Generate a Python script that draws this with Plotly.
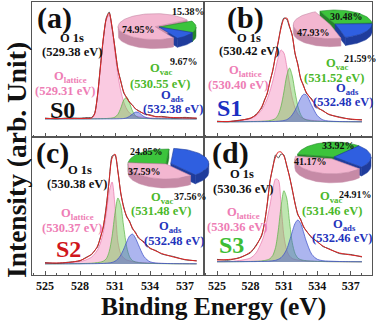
import numpy as np
import plotly.graph_objects as go

# ---------------- data ----------------
energy = [525, 526, 527, 528, 528.5, 529, 529.25, 529.5, 529.75, 530, 530.25, 530.5,
          530.75, 531, 531.25, 531.5, 531.75, 532, 532.25, 532.5, 532.75, 533, 533.5,
          534, 534.5, 535, 536, 537, 538]

# S0 (a)
s0_raw = [0.9, 0.2, 1.1, 0.8, 1.3, 1.6, 5.5, 23, 53, 80, 101, 107, 91, 71, 49, 38, 26, 21.5, 16.5, 14, 10, 8.6, 5, 4.2, 2.2, 2.6, 1.0, 1.6, 0.6]
s0_fit = [0.5, 0.5, 0.5, 0.5, 0.6, 1.0, 5, 24, 52, 81, 100, 106, 92, 70, 50, 37, 27, 21, 17, 13.5, 10.5, 8, 5.5, 3.5, 2.5, 2, 1.5, 1, 1]
s0_lattice = [0.3, 0.4, 0.4, 0.5, 0.6, 1, 5, 23, 51, 80, 99, 104, 90, 66, 44, 28, 17, 10, 6, 4, 3, 2.3, 1.6, 1.2, 0.9, 0.7, 0.5, 0.3, 0.2]
s0_vac = [0.1, 0.1, 0.1, 0.12, 0.15, 0.2, 0.25, 0.3, 0.35, 0.4, 0.5, 0.7, 1.0, 1.9, 4.7, 11, 19, 21.8, 15.8, 8.1, 3.3, 1.4, 0.5, 0.35, 0.25, 0.2, 0.15, 0.1, 0.1]
s0_ads = [0.05, 0.05, 0.05, 0.05, 0.05, 0.1, 0.1, 0.1, 0.1, 0.1, 0.1, 0.1, 0.1, 0.15, 0.2, 0.3, 0.5, 1.2, 2.7, 4.9, 6.8, 6.6, 2.3, 0.5, 0.25, 0.15, 0.1, 0.08, 0.05]

# S1 (b)
s1_raw = [0.8, 0.3, 1.8, 3.6, 7.5, 14, 22, 28, 41, 51, 67, 80, 96, 104, 103, 95, 87, 68, 58, 43, 37, 29, 23, 14, 11.5, 7.5, 5, 2.6, 2.3]
s1_fit = [0.5, 0.5, 1.5, 4, 7, 15, 21, 29, 40, 52, 66, 81, 94, 103, 104, 96, 86, 69, 57, 44, 36, 30, 22, 15, 11, 8, 4.5, 3, 2]
s1_lattice = [0.5, 0.5, 1.3, 3.5, 6, 12, 17, 23, 31, 41, 53, 65, 72, 69, 56, 39, 24, 14, 8, 5, 3.5, 2.5, 1.6, 1.1, 0.8, 0.6, 0.4, 0.3, 0.2]
s1_vac = [0.15, 0.2, 0.25, 0.4, 0.55, 0.75, 0.9, 1.1, 1.5, 2.2, 3.6, 7.6, 16, 30, 46, 54, 46, 30, 16, 7.6, 3.6, 2.2, 1.1, 0.75, 0.5, 0.4, 0.25, 0.2, 0.15]
s1_ads = [0.15, 0.2, 0.2, 0.3, 0.3, 0.35, 0.4, 0.4, 0.45, 0.5, 0.6, 0.8, 1.1, 1.5, 2.3, 4.1, 7.2, 11.7, 17.7, 23.7, 27.6, 27.2, 16.4, 6.4, 2.1, 1.0, 0.45, 0.3, 0.2]

# S2 (c)
s2_raw = [1.4, 0.6, 1.8, 3.2, 6.5, 9.5, 13.5, 17, 27, 37, 58, 83, 108, 109, 93, 70, 57, 47, 43, 35, 32, 26, 22, 15.5, 13.5, 10, 7.5, 4.2, 3.3]
s2_fit = [1, 1, 1.5, 3.5, 6, 10, 13, 18, 26, 38, 56, 84, 106, 110, 92, 71, 56, 48, 42, 36, 31, 27, 21, 16, 13, 10.5, 7, 4.5, 3]
s2_lattice = [0.6, 0.8, 1.2, 2.5, 4, 7, 10, 14, 21, 32, 50, 72, 82, 58, 22, 10, 6, 4, 3.2, 2.5, 2, 1.6, 1.2, 0.9, 0.7, 0.6, 0.4, 0.3, 0.25]
s2_vac = [0.1, 0.15, 0.25, 0.4, 0.6, 0.8, 1.1, 1.4, 1.9, 2.8, 5.2, 12.3, 27.8, 51, 66, 58, 36.6, 17.3, 7.2, 3.4, 2.1, 1.5, 0.9, 0.6, 0.45, 0.35, 0.2, 0.15, 0.1]
s2_ads = [0.2, 0.2, 0.2, 0.2, 0.25, 0.3, 0.35, 0.4, 0.5, 0.6, 0.8, 1.1, 1.6, 2.8, 5, 9, 15, 22, 28, 29.9, 26, 19.4, 7.2, 2.2, 1.0, 0.63, 0.35, 0.25, 0.18]

# S3 (d)
s3_raw = [2.6, 1.8, 4.4, 9.2, 16.8, 26, 39, 57, 81, 94, 107, 104, 108, 107, 96, 86, 72, 59, 47, 43, 35, 31.5, 24, 20.5, 15.5, 13.5, 8.4, 7.5, 5]
s3_fit = [2, 2.5, 4, 10, 16, 27, 38, 58, 80, 95, 105, 110, 110, 106, 97, 85, 73, 58, 48, 42, 36, 31, 25, 20, 16, 13, 9, 7, 5.5]
s3_lattice = [0.3, 0.5, 1.5, 4, 9, 20, 28, 43, 57, 72, 83, 82, 56, 26, 12, 6, 3.5, 2.5, 2, 1.6, 1.3, 1.1, 0.8, 0.6, 0.5, 0.4, 0.3, 0.2, 0.2]
s3_vac = [0.2, 0.25, 0.35, 0.55, 0.75, 1.1, 1.5, 2.1, 3.3, 6.5, 14.4, 32, 56, 71.3, 64, 40.7, 19.4, 8.5, 4, 2.4, 1.7, 1.3, 0.9, 0.6, 0.45, 0.35, 0.25, 0.2, 0.15]
s3_ads = [0.3, 0.3, 0.35, 0.4, 0.45, 0.55, 0.65, 0.8, 1.0, 1.3, 1.7, 2.7, 4.4, 7.7, 12.6, 21, 30.3, 38.6, 42, 38.6, 30.3, 21, 7.7, 2.7, 1.3, 0.9, 0.5, 0.33, 0.22]

samples = ["S0", "S1", "S2", "S3"]
panel_letters = ["(a)", "(b)", "(c)", "(d)"]
lattice_pct = [74.95, 47.93, 37.59, 41.17]
vac_pct = [15.38, 30.48, 24.85, 33.92]
ads_pct = [9.67, 21.59, 37.56, 24.91]
o1s_ev = [529.38, 530.42, 530.38, 530.36]
lattice_ev = [529.31, 530.40, 530.37, 530.36]
vac_ev = [530.55, 531.52, 531.48, 531.46]
ads_ev = [532.38, 532.48, 532.48, 532.46]
xtick_step = 3

# ---------------- layout helpers ----------------
W, H = 376, 321
SERIF = "Liberation Serif, Times New Roman, serif"

spectra = [
    (s0_raw, s0_fit, s0_lattice, s0_vac, s0_ads),
    (s1_raw, s1_fit, s1_lattice, s1_vac, s1_ads),
    (s2_raw, s2_fit, s2_lattice, s2_vac, s2_ads),
    (s3_raw, s3_fit, s3_lattice, s3_vac, s3_ads),
]

# panel boxes in pixels: x0, x1, y0, y1, baseline pixel, pixel of 525 eV, pixels per eV
panels = [
    (32, 204, 2, 137, 119, 45, 11.667),
    (204, 372, 2, 137, 122, 217, 11.15),
    (32, 204, 137, 275, 264, 45, 11.667),
    (204, 372, 137, 275, 262, 217, 11.15),
]

C_PINK_T, C_GREEN_T, C_BLUE_T = "#ee7db5", "#4bb82a", "#2333bb"
sample_colors = ["#111111", "#1b2fc2", "#d0161b", "#3dbd35"]

fig = go.Figure()

comp_style = [
    ("rgba(232,120,172,0.9)", "rgba(246,150,196,0.50)"),
    ("rgba(90,180,70,0.9)", "rgba(110,200,80,0.45)"),
    ("rgba(60,80,200,0.9)", "rgba(70,90,220,0.45)"),
]

for k in range(4):
    key = "" if k == 0 else str(k + 1)
    raw, fit, lat, vac, ads = spectra[k]
    for comp, (lc, fc) in zip((lat, vac, ads), comp_style):
        fig.add_trace(go.Scatter(
            x=energy, y=comp, xaxis="x" + key, yaxis="y" + key, mode="lines",
            line=dict(color=lc, width=0.8, shape="spline", smoothing=0.8),
            fill="tozeroy", fillcolor=fc, hoverinfo="skip", showlegend=False))
    fig.add_trace(go.Scatter(
        x=energy, y=raw, xaxis="x" + key, yaxis="y" + key, mode="lines",
        line=dict(color="#383838", width=0.9, shape="spline", smoothing=0.6),
        hoverinfo="skip", showlegend=False))
    fig.add_trace(go.Scatter(
        x=energy, y=fit, xaxis="x" + key, yaxis="y" + key, mode="lines",
        line=dict(color="#e02424", width=1.0, shape="spline", smoothing=0.8),
        hoverinfo="skip", showlegend=False))

# ---------------- 3D-look pies (overlay axis in pixel units) ----------------
pie_geo = [  # cx, cy, a, b, depth, start angle, exploded slice index, explode px
    (159, 27, 37, 13, 9, 30, 2, 4),
    (335, 24, 37, 14, 8, 114, 2, 5),
    (166, 164, 38, 15, 9, 175, 1, 5),
    (334, 157, 37, 15, 9, 170, 2, 5),
]
top_cols = ["#3cc43c", "#2f5fe0", "#f3b6d0"]
side_cols = ["#24862a", "#1f3c9c", "#c68aa6"]


def arc(cx, cy, a, b, t0, t1):
    n = max(2, int(abs(t1 - t0) / 3) + 2)
    t = np.radians(np.linspace(t0, t1, n))
    return cx + a * np.cos(t), cy - b * np.sin(t)


def poly(xs, ys, fc, lc, lw=0.5):
    return go.Scatter(x=list(xs), y=list(ys), xaxis="x5", yaxis="y5", mode="lines",
                      fill="toself", fillcolor=fc, line=dict(color=lc, width=lw),
                      hoverinfo="skip", showlegend=False)


walls, sides, tops = [], [], []
for k in range(4):
    cx, cy, a, b, dep, start, ex_i, ex_r = pie_geo[k]
    pcts = [vac_pct[k], ads_pct[k], lattice_pct[k]]
    s = start
    for i, v in enumerate(pcts):
        e = s - 360.0 * v / 100.0
        m = np.radians((s + e) / 2)
        r = ex_r if i == ex_i else 0
        ox, oy = cx + r * np.cos(m), cy - r * (b / a) * np.sin(m)
        for ang, vis in ((s, np.cos(np.radians(s)) < 0), (e, np.cos(np.radians(e)) > 0)):
            if vis:
                rx = ox + a * np.cos(np.radians(ang))
                ry = oy - b * np.sin(np.radians(ang))
                walls.append(poly([ox, rx, rx, ox, ox], [oy, ry, ry + dep, oy + dep, oy],
                                  side_cols[i], side_cols[i]))
        for kk in (-1, 0, 1):
            lo = max(e, -180 + 360 * kk)
            hi = min(s, 360 * kk)
            if hi > lo:
                xt, yt = arc(ox, oy, a, b, hi, lo)
                xs = np.concatenate([xt, xt[::-1], xt[:1]])
                ys = np.concatenate([yt, yt[::-1] + dep, yt[:1]])
                sides.append(poly(xs, ys, side_cols[i], side_cols[i]))
        xt, yt = arc(ox, oy, a, b, s, e)
        tops.append(poly([ox, *xt, ox], [oy, *yt, oy], top_cols[i], side_cols[i], 0.6))
        s = e

for tr in walls + sides + tops:
    fig.add_trace(tr)

# ---------------- text ----------------
ann = []


def txt(x, y, t, size, color="#111111", angle=0):
    ann.append(dict(x=x, y=y, xref="x5", yref="y5", text=t, showarrow=False,
                    xanchor="center", yanchor="middle", textangle=angle,
                    font=dict(family=SERIF, size=size, color=color)))


pos = {
    "letter": [(54, 18), (245, 18), (52, 153), (230, 153)],
    "o1s": [(72, 38), (249, 38), (80, 170), (242, 174)],
    "o1s_ev": [(72, 52), (249, 51), (77, 184), (243, 189)],
    "lat": [(70, 77), (245, 71), (77, 214), (243, 213)],
    "lat_ev": [(65, 91), (238, 85), (72, 228), (237, 227)],
    "sample": [(62, 110), (229, 108), (68, 249), (231, 245)],
    "vac": [(161, 69), (337, 64), (162, 198), (331, 197)],
    "vac_ev": [(160, 84), (334, 78), (161, 211), (332, 211)],
    "ads": [(172, 96), (347, 89), (170, 227), (344, 225)],
    "ads_ev": [(173, 109), (343, 102), (174, 241), (342, 238)],
}
pct_pos = [
    [(188, 11), (184, 61), (138, 29)],
    [(346, 16), (360, 58), (313, 32)],
    [(146, 151), (190, 196), (144, 171)],
    [(338, 145), (355, 194), (310, 161)],
]

for k in range(4):
    txt(*pos["letter"][k], "<b>%s</b>" % panel_letters[k], 30)
    txt(*pos["o1s"][k], "<b>O 1s</b>", 12.5)
    txt(*pos["o1s_ev"][k], "<b>(%.2f eV)</b>" % o1s_ev[k], 12.5)
    txt(*pos["lat"][k], "<b>O<sub>lattice</sub></b>", 12.5, C_PINK_T)
    txt(*pos["lat_ev"][k], "<b>(%.2f eV)</b>" % lattice_ev[k], 12.5, C_PINK_T)
    txt(*pos["sample"][k], "<b>%s</b>" % samples[k], 24, sample_colors[k])
    txt(*pos["vac"][k], "<b>O<sub>vac</sub></b>", 12.5, C_GREEN_T)
    txt(*pos["vac_ev"][k], "<b>(%.2f eV)</b>" % vac_ev[k], 12.5, C_GREEN_T)
    txt(*pos["ads"][k], "<b>O<sub>ads</sub></b>", 12.5, C_BLUE_T)
    txt(*pos["ads_ev"][k], "<b>(%.2f eV)</b>" % ads_ev[k], 12.5, C_BLUE_T)
    for (px, py), v in zip(pct_pos[k], (vac_pct[k], ads_pct[k], lattice_pct[k])):
        txt(px, py, "<b>%.2f%%</b>" % v, 10)

txt(16, 160, "<b>Intensity (arb. Unit)</b>", 27.5, angle=-90)
txt(213, 306, "<b>Binding Energy (eV)</b>", 25.5)

# ---------------- axes ----------------
layout = dict(width=W, height=H, margin=dict(l=0, r=0, t=0, b=0),
              paper_bgcolor="white", plot_bgcolor="rgba(0,0,0,0)",
              showlegend=False, annotations=ann)
for k, (x0, x1, y0, y1, base, p525, ppe) in enumerate(panels):
    key = "" if k == 0 else str(k + 1)
    xr = [525 + (x0 - p525) / ppe, 525 + (x1 - p525) / ppe]
    yr = [-(y1 - base), base - y0]
    layout["xaxis" + key] = dict(
        domain=[x0 / W, x1 / W], range=xr, anchor="y" + key,
        showline=True, linecolor="#555555", linewidth=1, mirror=True,
        ticks="inside", ticklen=4, tickcolor="#555555",
        tickmode="linear", tick0=525, dtick=xtick_step,
        minor=dict(ticks="inside", ticklen=2, tickcolor="#555555", dtick=1, tick0=525),
        showticklabels=(k >= 2),
        tickfont=dict(family=SERIF, size=12, color="#111111", weight="bold"),
        showgrid=False, zeroline=False, fixedrange=True)
    layout["yaxis" + key] = dict(
        domain=[1 - y1 / H, 1 - y0 / H], range=yr, anchor="x" + key,
        showline=True, linecolor="#555555", linewidth=1, mirror=True,
        ticks="", showticklabels=False, showgrid=False, zeroline=False, fixedrange=True)
layout["xaxis5"] = dict(domain=[0, 1], range=[0, W], anchor="y5", visible=False, fixedrange=True)
layout["yaxis5"] = dict(domain=[0, 1], range=[H, 0], anchor="x5", visible=False, fixedrange=True)
fig.update_layout(**layout)

fig.write_html("out.html")
